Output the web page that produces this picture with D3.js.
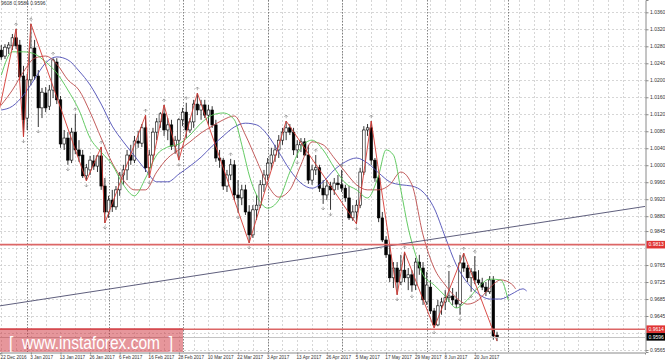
<!DOCTYPE html>
<html lang="en">
<head>
<meta charset="UTF-8">
<title>USDCHF Daily</title>
<script src="https://cdn.jsdelivr.net/npm/d3@7"></script>
<style>
  html, body { margin: 0; padding: 0; background: #fff; }
  svg { display: block; }
  text { font-family: "Liberation Sans", Arial, sans-serif; }
</style>
</head>
<body>
<svg id="chart" width="665" height="362"></svg>
<script>
// Daily candles, bar 0 = 22 Dec 2016 ... bar 134 = 28 Jun 2017
const open = [
  1.0271, 1.0257, 1.0276, 1.0281, 1.0300, 1.0283, 1.0210, 1.0111, 1.0201, 1.0276,
  1.0210, 1.0135, 1.0170, 1.0139, 1.0177, 1.0243, 1.0154, 1.0050, 1.0064, 1.0012,
  1.0078, 1.0036, 1.0024, 0.9975, 0.9989, 1.0010, 0.9998, 1.0022, 0.9951, 0.9890,
  0.9918, 0.9902, 0.9942, 0.9977, 0.9989, 1.0024, 1.0012, 1.0057, 1.0052, 1.0088,
  0.9994, 1.0024, 1.0078, 1.0102, 1.0121, 1.0083, 1.0095, 1.0045, 1.0059, 1.0107,
  1.0125, 1.0083, 1.0102, 1.0144, 1.0130, 1.0142, 1.0118, 1.0130, 1.0095, 1.0017,
  1.0012, 0.9951, 0.9977, 1.0001, 0.9930, 0.9923, 0.9942, 0.9890, 0.9836, 0.9895,
  0.9906, 0.9954, 0.9977, 1.0005, 1.0024, 1.0036, 1.0059, 1.0078, 1.0088, 1.0078,
  1.0036, 1.0048, 1.0055, 1.0024, 0.9965, 0.9989, 0.9994, 0.9946, 0.9930, 0.9951,
  0.9942, 0.9958, 0.9954, 0.9946, 0.9923, 0.9876, 0.9890, 0.9906, 0.9984, 1.0083,
  1.0088, 1.0012, 0.9970, 0.9876, 0.9824, 0.9789, 0.9735, 0.9758, 0.9725, 0.9753,
  0.9735, 0.9742, 0.9718, 0.9772, 0.9758, 0.9678, 0.9713, 0.9657, 0.9624, 0.9669,
  0.9678, 0.9688, 0.9692, 0.9683, 0.9673, 0.9770, 0.9758, 0.9735, 0.9749, 0.9730,
  0.9723, 0.9713, 0.9702, 0.9730, 0.9600
];
const high = [
  1.0283, 1.0285, 1.0290, 1.0309, 1.0321, 1.0295, 1.0234, 1.0215, 1.0333, 1.0295,
  1.0224, 1.0182, 1.0184, 1.0189, 1.0252, 1.0252, 1.0163, 1.0083, 1.0078, 1.0088,
  1.0121, 1.0059, 1.0036, 1.0003, 1.0022, 1.0024, 1.0024, 1.0043, 0.9970, 0.9928,
  0.9942, 0.9951, 0.9984, 1.0001, 1.0036, 1.0048, 1.0069, 1.0081, 1.0097, 1.0118,
  1.0036, 1.0088, 1.0111, 1.0125, 1.0142, 1.0111, 1.0107, 1.0069, 1.0111, 1.0135,
  1.0147, 1.0111, 1.0154, 1.0170, 1.0154, 1.0154, 1.0142, 1.0139, 1.0107, 1.0036,
  1.0017, 0.9989, 1.0015, 1.0012, 0.9965, 0.9954, 0.9954, 0.9906, 0.9906, 0.9930,
  0.9965, 0.9989, 1.0017, 1.0041, 1.0048, 1.0071, 1.0088, 1.0104, 1.0097, 1.0088,
  1.0059, 1.0064, 1.0064, 1.0048, 1.0001, 1.0024, 1.0001, 0.9965, 0.9965, 0.9961,
  0.9970, 0.9977, 0.9989, 0.9954, 0.9951, 0.9906, 0.9918, 0.9994, 1.0092, 1.0097,
  1.0104, 1.0017, 0.9977, 0.9890, 0.9833, 0.9812, 0.9772, 0.9772, 0.9789, 0.9796,
  0.9758, 0.9753, 0.9782, 0.9789, 0.9772, 0.9749, 0.9730, 0.9664, 0.9683, 0.9688,
  0.9706, 0.9751, 0.9711, 0.9702, 0.9789, 0.9793, 0.9765, 0.9758, 0.9786, 0.9753,
  0.9735, 0.9725, 0.9739, 0.9739, 0.9608
];
const low = [
  1.0248, 1.0250, 1.0262, 1.0271, 1.0274, 1.0201, 1.0067, 1.0083, 1.0189, 1.0201,
  1.0090, 1.0111, 1.0125, 1.0130, 1.0158, 1.0144, 1.0041, 1.0036, 1.0001, 1.0005,
  1.0026, 1.0008, 0.9970, 0.9963, 0.9977, 0.9989, 0.9984, 0.9942, 0.9864, 0.9876,
  0.9890, 0.9895, 0.9928, 0.9954, 0.9965, 1.0001, 1.0005, 1.0041, 1.0043, 0.9984,
  0.9970, 1.0012, 1.0059, 1.0088, 1.0069, 1.0059, 1.0036, 1.0027, 1.0012, 1.0092,
  1.0064, 1.0076, 1.0088, 1.0118, 1.0107, 1.0111, 1.0095, 1.0088, 1.0008, 0.9994,
  0.9942, 0.9937, 0.9965, 0.9918, 0.9888, 0.9906, 0.9883, 0.9817, 0.9829, 0.9871,
  0.9899, 0.9937, 0.9965, 0.9989, 1.0008, 1.0017, 1.0048, 1.0059, 1.0071, 1.0024,
  1.0017, 1.0031, 1.0022, 0.9956, 0.9954, 0.9977, 0.9937, 0.9909, 0.9918, 0.9895,
  0.9930, 0.9942, 0.9937, 0.9914, 0.9871, 0.9869, 0.9862, 0.9899, 0.9977, 1.0069,
  1.0001, 0.9961, 0.9866, 0.9819, 0.9782, 0.9725, 0.9711, 0.9695, 0.9718, 0.9725,
  0.9706, 0.9702, 0.9706, 0.9742, 0.9671, 0.9671, 0.9650, 0.9617, 0.9621, 0.9648,
  0.9659, 0.9678, 0.9671, 0.9664, 0.9648, 0.9749, 0.9725, 0.9702, 0.9720, 0.9718,
  0.9706, 0.9692, 0.9697, 0.9589, 0.9586
];
const close = [
  1.0255, 1.0278, 1.0283, 1.0300, 1.0281, 1.0208, 1.0107, 1.0201, 1.0276, 1.0210,
  1.0135, 1.0172, 1.0135, 1.0177, 1.0248, 1.0154, 1.0050, 1.0064, 1.0012, 1.0078,
  1.0036, 1.0022, 0.9975, 0.9994, 1.0012, 0.9998, 1.0022, 0.9951, 0.9890, 0.9918,
  0.9902, 0.9942, 0.9977, 0.9989, 1.0024, 1.0012, 1.0057, 1.0052, 1.0088, 0.9994,
  1.0024, 1.0078, 1.0102, 1.0121, 1.0083, 1.0095, 1.0045, 1.0059, 1.0107, 1.0125,
  1.0083, 1.0102, 1.0144, 1.0130, 1.0142, 1.0118, 1.0130, 1.0095, 1.0017, 1.0012,
  0.9951, 0.9977, 1.0001, 0.9930, 0.9923, 0.9942, 0.9890, 0.9836, 0.9895, 0.9906,
  0.9954, 0.9977, 1.0005, 1.0024, 1.0036, 1.0059, 1.0078, 1.0088, 1.0078, 1.0036,
  1.0048, 1.0055, 1.0024, 0.9965, 0.9989, 0.9994, 0.9946, 0.9930, 0.9951, 0.9942,
  0.9958, 0.9954, 0.9946, 0.9923, 0.9876, 0.9890, 0.9906, 0.9984, 1.0083, 1.0088,
  1.0012, 0.9970, 0.9876, 0.9824, 0.9789, 0.9735, 0.9758, 0.9725, 0.9753, 0.9735,
  0.9742, 0.9718, 0.9772, 0.9758, 0.9683, 0.9718, 0.9657, 0.9624, 0.9669, 0.9678,
  0.9688, 0.9692, 0.9683, 0.9673, 0.9770, 0.9758, 0.9735, 0.9749, 0.9730, 0.9723,
  0.9713, 0.9702, 0.9730, 0.9598, 0.9596
];

// Alligator lines: [bar, price]
const jawBars = [0, 3, 6, 9, 12, 15, 18, 21, 24, 27, 30, 33, 36, 39, 42, 45, 48, 51, 54, 57, 60, 63, 66,
  69, 72, 75, 78, 81, 84, 87, 90, 93, 96, 99, 102, 105, 108, 111, 114, 117, 120, 123, 126, 129, 132, 135, 138, 141, 142];
const jawPrices = [1.0130, 1.0139, 1.0165, 1.0203, 1.0241, 1.0255, 1.0248, 1.0222, 1.0189, 1.0144, 1.0092, 1.0055,
  1.0022, 0.9989, 0.9961, 0.9961, 0.9979, 0.9998, 1.0019, 1.0045, 1.0069, 1.0090, 1.0099,
  1.0095, 1.0071, 1.0031, 0.9989, 0.9958, 0.9946, 0.9961, 0.9989, 1.0008, 1.0017, 1.0005, 0.9982,
  0.9961, 0.9954, 0.9951, 0.9937, 0.9899, 0.9831, 0.9765, 0.9723, 0.9697, 0.9685, 0.9685, 0.9697, 0.9709, 0.9704];

const teethBars = [0, 3, 6, 9, 12, 15, 18, 21, 24, 27, 30, 33, 36, 39, 42, 45, 48, 51, 54, 57, 60, 63, 66,
  69, 72, 75, 78, 81, 84, 87, 90, 93, 96, 99, 102, 105, 108, 111, 114, 117, 120, 123, 126, 129, 132, 135, 138, 139];
const teethPrices = [1.0142, 1.0177, 1.0220, 1.0252, 1.0257, 1.0238, 1.0201, 1.0177, 1.0125, 1.0064, 1.0005, 0.9965,
  0.9942, 0.9942, 0.9984, 1.0017, 1.0036, 1.0055, 1.0076, 1.0092, 1.0107, 1.0116, 1.0071,
  1.0012, 0.9954, 0.9925, 0.9942, 1.0001, 1.0055, 1.0048, 1.0017, 0.9984, 0.9954, 0.9942, 0.9942,
  0.9954, 0.9984, 0.9954, 0.9836, 0.9758, 0.9718, 0.9688, 0.9673, 0.9683, 0.9711, 0.9730, 0.9720, 0.9709];

const lipsBars = [0, 3, 6, 9, 12, 15, 18, 21, 24, 27, 30, 33, 36, 39, 42, 45, 48, 51, 54, 57, 60, 63, 65, 66, 67,
  69, 72, 75, 78, 81, 84, 87, 90, 93, 96, 99, 102, 104, 106, 108, 110, 112, 114, 117, 120, 123, 126, 129, 132, 135, 137];
const lipsPrices = [1.0212, 1.0267, 1.0267, 1.0262, 1.0243, 1.0217, 1.0177, 1.0130, 1.0064, 1.0031, 1.0001, 0.9954,
  0.9928, 0.9970, 1.0024, 1.0043, 1.0050, 1.0071, 1.0099, 1.0118, 1.0123, 1.0107, 1.0048, 1.0012, 0.9977,
  0.9930, 0.9899, 0.9918, 0.9984, 1.0041, 1.0059, 1.0036, 0.9994, 0.9958, 0.9942, 0.9923, 0.9977, 1.0036,
  1.0024, 0.9942, 0.9852, 0.9789, 0.9742, 0.9718, 0.9692, 0.9664, 0.9683, 0.9713, 0.9732, 0.9730, 0.9683];

// ZigZag vertices
const zigBars = [-1, 4, 6, 8, 23, 27, 28, 39, 40, 44, 48, 53, 67, 77, 96, 100, 107, 109, 117, 125, 134];
const zigPrices = [1.0111, 1.0321, 1.0067, 1.0333, 0.9963, 1.0043, 0.9864, 1.0118, 0.9970, 1.0142, 1.0012,
  1.0170, 0.9817, 1.0104, 0.9862, 1.0104, 0.9695, 0.9796, 0.9617, 0.9793, 0.9586];

// fractal markers (bar indexes)
const fractalUp = [4, 8, 14, 20, 27, 39, 44, 50, 53, 62, 77, 85, 92, 100, 109, 121, 125, 128];
const fractalDown = [6, 10, 18, 23, 28, 40, 48, 64, 67, 80, 87, 89, 96, 107, 111, 117, 124, 127];

// chart objects
const trendBars = [-0.35, 174];
const trendPrices = [0.9669, 0.9903];
const levelPrices = [0.9813, 0.9614];
const bidPrice = 0.9596;

// axes (0.9805 and 0.9605 sit under the price boxes and are not shown)
const gridTicks = [1.0360, 1.0320, 1.0280, 1.0240, 1.0200, 1.0160, 1.0120, 1.0080, 1.0040, 1.0000,
  0.9960, 0.9920, 0.9880, 0.9845, 0.9805, 0.9765, 0.9725, 0.9685, 0.9645, 0.9605, 0.9565];
const priceLabels = [1.0360, 1.0320, 1.0280, 1.0240, 1.0200, 1.0160, 1.0120, 1.0080, 1.0040, 1.0000,
  0.9960, 0.9920, 0.9880, 0.9845, 0.9765, 0.9725, 0.9685, 0.9645, 0.9565];
const dateBars = [0, 8, 16, 24, 32, 40, 48, 56, 64, 72, 80, 88, 96, 104, 112, 120, 128];
const dateLabels = ['22 Dec 2016', '3 Jan 2017', '13 Jan 2017', '26 Jan 2017', '6 Feb 2017', '16 Feb 2017',
  '28 Feb 2017', '10 Mar 2017', '22 Mar 2017', '3 Apr 2017', '13 Apr 2017', '26 Apr 2017', '5 May 2017',
  '17 May 2017', '29 May 2017', '8 Jun 2017', '20 Jun 2017'];
const monthBars = [7, 29, 49, 72, 92, 115, 137];

const plotW = 645, plotH = 352;
const svg = d3.select('#chart');

const x = d3.scaleLinear().domain([-0.35, 174]).range([0, plotW]);
const y = d3.scaleLinear().domain([0.95603, 1.0389]).range([plotH, 0]);
const px = v => Math.round(v) + 0.5;

svg.append('defs').append('clipPath').attr('id', 'plot')
  .append('rect').attr('width', plotW).attr('height', plotH);

const plot = svg.append('g').attr('clip-path', 'url(#plot)');

// grid
plot.append('g').selectAll('line').data(gridTicks).join('line')
  .attr('x1', 0).attr('x2', plotW)
  .attr('y1', d => px(y(d))).attr('y2', d => px(y(d)))
  .attr('stroke', '#cccccc').attr('stroke-width', 0.8).attr('stroke-dasharray', '2,2');

plot.append('g').selectAll('line').data(d3.range(0, 175, 4)).join('line')
  .attr('x1', d => px(x(d))).attr('x2', d => px(x(d)))
  .attr('y1', 0).attr('y2', plotH)
  .attr('stroke', '#cccccc').attr('stroke-width', 0.8).attr('stroke-dasharray', '2,2');

// month separators
plot.append('g').selectAll('line').data(monthBars).join('line')
  .attr('x1', d => px(x(d))).attr('x2', d => px(x(d)))
  .attr('y1', 0).attr('y2', plotH)
  .attr('stroke', '#666').attr('stroke-width', 0.8).attr('stroke-dasharray', '1.5,1.5');

// candles
const bars = d3.range(open.length);
const candles = plot.append('g');
candles.selectAll('line').data(bars).join('line')
  .attr('x1', i => x(i)).attr('x2', i => x(i))
  .attr('y1', i => y(high[i])).attr('y2', i => y(low[i]))
  .attr('stroke', '#000').attr('stroke-width', 0.8);
candles.selectAll('rect').data(bars).join('rect')
  .attr('x', i => x(i) - 1.3)
  .attr('width', 2.6)
  .attr('y', i => y(Math.max(open[i], close[i])))
  .attr('height', i => Math.max(0.7, Math.abs(y(open[i]) - y(close[i]))))
  .attr('fill', i => close[i] >= open[i] ? '#fff' : '#000')
  .attr('stroke', '#000').attr('stroke-width', 0.6);

// alligator
function drawLine(bs, ps, color) {
  const line = d3.line().x(d => x(d[0])).y(d => y(d[1])).curve(d3.curveMonotoneX);
  plot.append('path')
    .datum(bs.map((b, k) => [b, ps[k]]))
    .attr('d', line)
    .attr('fill', 'none')
    .attr('stroke', color)
    .attr('stroke-width', 0.9);
}
drawLine(jawBars, jawPrices, '#4c4cb4');
drawLine(teethBars, teethPrices, '#bb4a4a');
drawLine(lipsBars, lipsPrices, '#52c452');

// zigzag
plot.append('path')
  .datum(zigBars.map((b, k) => [b, zigPrices[k]]))
  .attr('d', d3.line().x(d => x(d[0])).y(d => y(d[1])))
  .attr('fill', 'none')
  .attr('stroke', '#d63a34')
  .attr('stroke-width', 0.9);

// fractals
const fr = plot.append('g').attr('stroke', '#8c8c8c').attr('stroke-width', 0.7).attr('fill', 'none');
fractalUp.forEach(i => {
  const cx = x(i), cy = y(high[i]) - 6;
  fr.append('path').attr('d', `M${cx - 1.8},${cy + 1.8}L${cx},${cy}L${cx + 1.8},${cy + 1.8}M${cx},${cy}V${cy + 3.2}`);
});
fractalDown.forEach(i => {
  const cx = x(i), cy = y(low[i]) + 6;
  fr.append('path').attr('d', `M${cx - 1.8},${cy - 1.8}L${cx},${cy}L${cx + 1.8},${cy - 1.8}M${cx},${cy}V${cy - 3.2}`);
});

// trend line and levels
plot.append('line')
  .attr('x1', x(trendBars[0])).attr('y1', y(trendPrices[0]))
  .attr('x2', x(trendBars[1])).attr('y2', y(trendPrices[1]))
  .attr('stroke', '#4d4d6e').attr('stroke-width', 0.9);

plot.append('g').selectAll('line').data(levelPrices).join('line')
  .attr('x1', 0).attr('x2', plotW)
  .attr('y1', d => y(d)).attr('y2', d => y(d))
  .attr('stroke', '#dc6666').attr('stroke-width', 1.6);

plot.append('line')
  .attr('x1', 0).attr('x2', plotW)
  .attr('y1', px(y(bidPrice))).attr('y2', px(y(bidPrice)))
  .attr('stroke', '#c4c4c4').attr('stroke-width', 1);

// watermark
const wm = svg.append('g');
wm.append('rect').attr('x', 0).attr('y', 328).attr('width', 183).attr('height', 24)
  .attr('fill', 'rgb(205,45,55)').attr('opacity', 0.5);
wm.append('text').attr('x', 9).attr('y', 349).text('[  www.instaforex.com  ]')
  .style('white-space', 'pre')
  .attr('fill', '#fff').attr('font-size', 19).attr('font-family', 'Open Sans').attr('font-weight', 300)
  .attr('textLength', 164).attr('lengthAdjust', 'spacingAndGlyphs');

// axes
const yAxis = svg.append('g').attr('transform', `translate(${plotW + 0.5},0)`)
  .call(d3.axisRight(y).tickValues(priceLabels).tickFormat(d3.format('.4f')).tickSize(3).tickPadding(1.5));
yAxis.select('.domain').attr('stroke', '#8a8a8a');
yAxis.selectAll('.tick line').attr('stroke', '#8a8a8a');
yAxis.selectAll('text').attr('font-size', 5).attr('fill', '#333')
  .attr('font-family', 'Liberation Sans, Arial, sans-serif');

const xAxis = svg.append('g').attr('transform', `translate(0,${plotH + 0.5})`)
  .call(d3.axisBottom(x).tickValues(dateBars).tickFormat((d, k) => dateLabels[k]).tickSize(2).tickPadding(1.5));
xAxis.select('.domain').attr('stroke', '#8a8a8a');
xAxis.selectAll('.tick line').attr('stroke', '#8a8a8a');
xAxis.selectAll('text').attr('font-size', 4.6).attr('fill', '#333').attr('text-anchor', 'start')
  .attr('dx', -1.2).attr('font-family', 'Liberation Sans, Arial, sans-serif');

// price boxes on the axis
const boxes = [
  { p: levelPrices[0], fill: '#e03434' },
  { p: levelPrices[1], fill: '#e03434' },
  { p: bidPrice, fill: '#000' }
];
boxes.forEach(b => {
  const cy = y(b.p);
  svg.append('rect').attr('x', plotW + 1.5).attr('y', cy - 3.8).attr('width', 19).attr('height', 7.6)
    .attr('fill', b.fill);
  svg.append('text').attr('x', plotW + 3.5).attr('y', cy + 1.8).text(d3.format('.4f')(b.p))
    .attr('fill', '#fff').attr('font-size', 5);
});

// last bar info
svg.append('text').attr('x', 1).attr('y', 5).text('9608 0.9586 0.9596')
  .attr('fill', '#333').attr('font-size', 5);
</script>
</body>
</html>
